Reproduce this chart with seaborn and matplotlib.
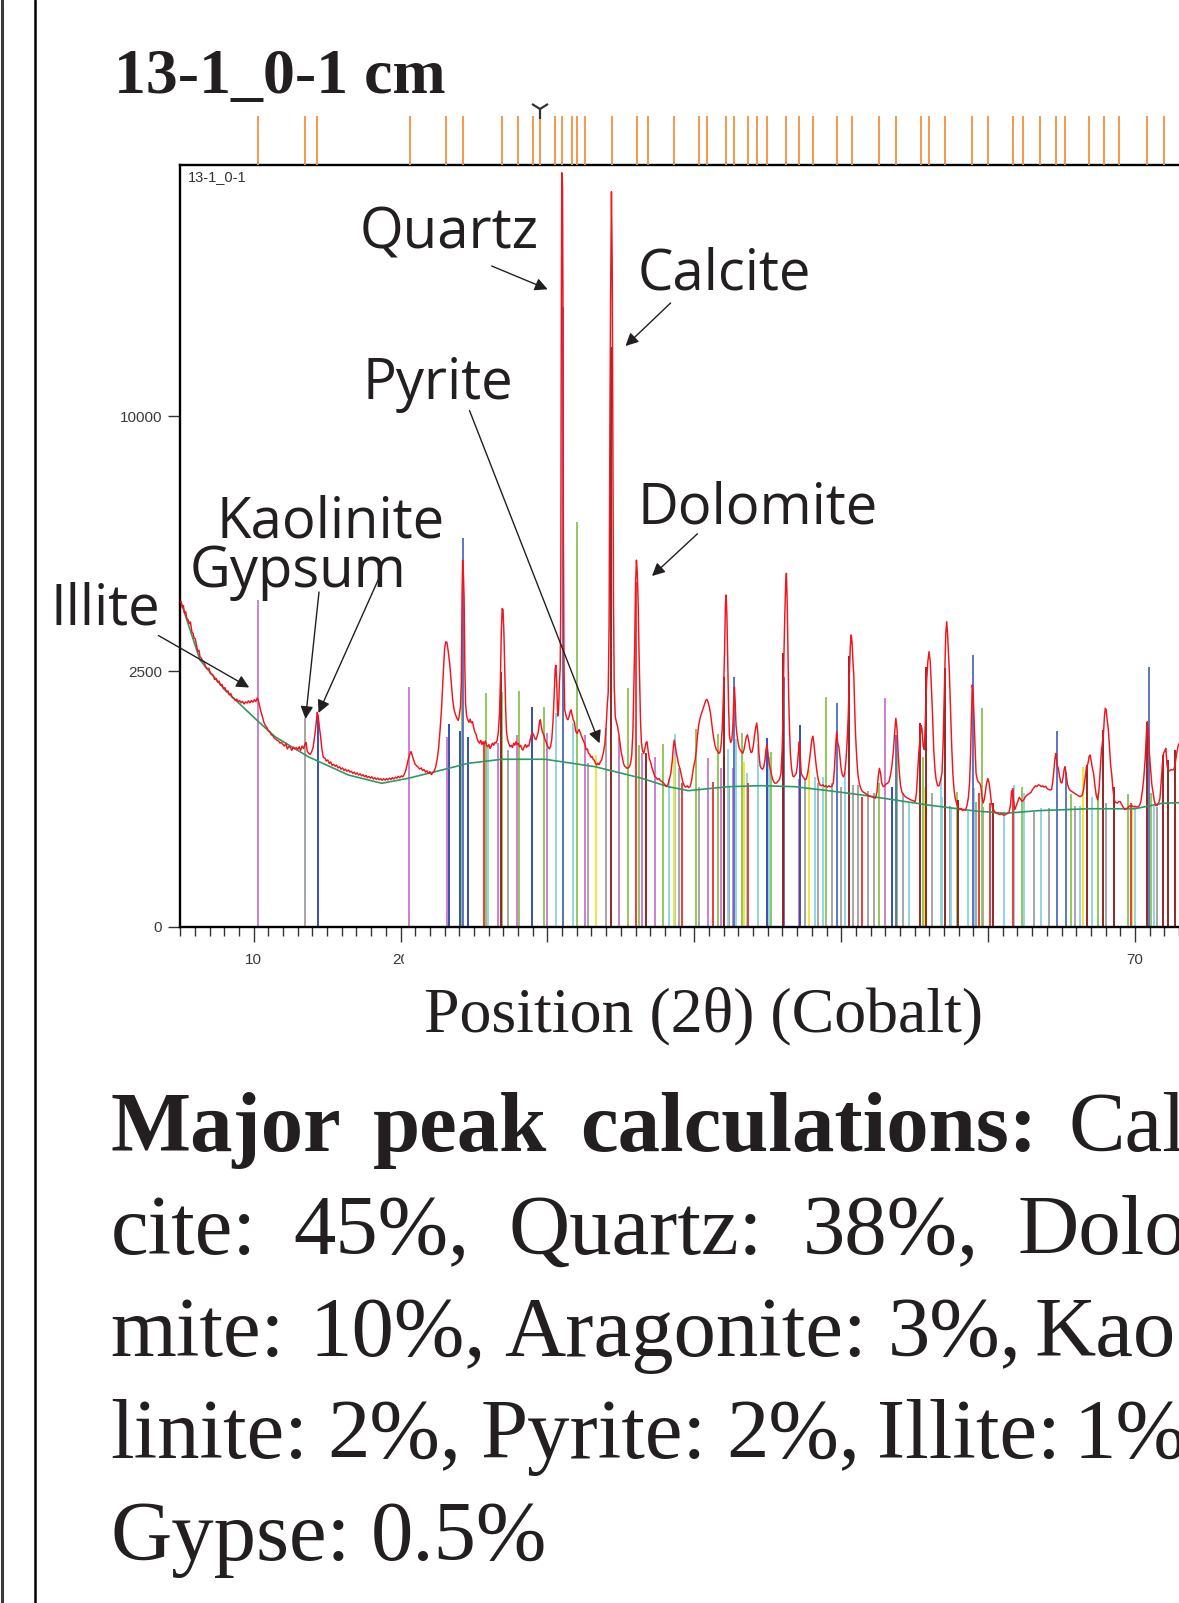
import numpy as np
import pandas as pd
import matplotlib
matplotlib.use("Agg")
import matplotlib.pyplot as plt
from matplotlib.ticker import MultipleLocator, FixedLocator
from matplotlib.lines import Line2D
from matplotlib.patches import Rectangle
import seaborn as sns

# ---------------------------------------------------------------- data
# measured scan, (2-theta, counts) with Co K-alpha, split into ranges
scan_05_22 = [
    (5.05, 4050), (5.15, 3900), (5.22, 3950), (5.3, 3760), (5.38, 3800), (5.45, 3640), (5.55, 3605),
    (5.62, 3520), (5.7, 3560), (5.8, 3330), (5.88, 3300), (5.95, 3190), (6.02, 3180), (6.1, 3060),
    (6.2, 2900), (6.28, 2930), (6.35, 2790), (6.45, 2760), (6.55, 2690), (6.62, 2700), (6.72, 2590),
    (6.85, 2540), (6.95, 2560), (7.05, 2460), (7.15, 2440), (7.25, 2420), (7.35, 2340), (7.45, 2360),
    (7.55, 2290), (7.65, 2310), (7.75, 2230), (7.85, 2250), (7.95, 2170), (8.05, 2190), (8.15, 2120),
    (8.25, 2130), (8.35, 2060), (8.45, 2080), (8.55, 2010), (8.65, 2000), (8.75, 1960), (8.85, 1985),
    (8.95, 1940), (9.05, 1960), (9.15, 1920), (9.25, 1945), (9.35, 1900), (9.45, 1935), (9.55, 1915),
    (9.65, 1955), (9.75, 1920), (9.85, 1960), (9.95, 1930), (10.05, 1975), (10.15, 1940), (10.25, 2005),
    (10.32, 1960), (10.4, 1880), (10.5, 1770), (10.6, 1690), (10.7, 1600), (10.8, 1550), (10.9, 1520),
    (11.0, 1470), (11.1, 1455), (11.2, 1410), (11.3, 1400), (11.4, 1365), (11.5, 1350), (11.6, 1330),
    (11.7, 1320), (11.8, 1290), (11.9, 1300), (12.0, 1270), (12.1, 1250), (12.2, 1285), (12.3, 1210),
    (12.4, 1245), (12.5, 1230), (12.6, 1190), (12.7, 1235), (12.8, 1210), (12.9, 1230), (13.0, 1200),
    (13.1, 1240), (13.2, 1190), (13.3, 1250), (13.4, 1215), (13.5, 1280), (13.57, 1300), (13.65, 1180),
    (13.75, 1150), (13.85, 1135), (13.95, 1170), (14.05, 1230), (14.15, 1380), (14.25, 1560),
    (14.33, 1760), (14.4, 1700), (14.48, 1520), (14.56, 1390), (14.64, 1220), (14.74, 1100),
    (14.85, 1090), (14.95, 1050), (15.05, 1065), (15.15, 1020), (15.25, 1040), (15.35, 995),
    (15.45, 1010), (15.55, 985), (15.65, 1000), (15.75, 965), (15.85, 980), (15.95, 950), (16.05, 965),
    (16.15, 935), (16.25, 950), (16.35, 925), (16.45, 940), (16.55, 915), (16.65, 925), (16.75, 900),
    (16.85, 915), (16.95, 890), (17.05, 905), (17.15, 880), (17.25, 895), (17.35, 870), (17.45, 885),
    (17.55, 860), (17.65, 875), (17.75, 850), (17.85, 865), (17.95, 845), (18.05, 860), (18.15, 835),
    (18.25, 850), (18.35, 830), (18.45, 845), (18.55, 825), (18.65, 840), (18.75, 820), (18.85, 838),
    (18.95, 822), (19.05, 840), (19.15, 825), (19.25, 845), (19.35, 830), (19.45, 850), (19.55, 835),
    (19.65, 855), (19.75, 845), (19.85, 865), (19.95, 850), (20.05, 870), (20.15, 860), (20.25, 885),
    (20.35, 930), (20.45, 1010), (20.55, 1090), (20.65, 1150), (20.72, 1175), (20.8, 1120),
    (20.9, 1060), (21.0, 1010), (21.1, 990), (21.2, 975), (21.3, 950), (21.4, 965), (21.5, 935),
    (21.6, 945), (21.7, 915), (21.8, 930), (21.9, 900), (22.0, 920), (22.1, 885), (22.2, 905),
]
scan_22_40 = [
    (22.3, 930), (22.4, 980), (22.5, 1080), (22.6, 1230), (22.7, 1500), (22.8, 1850), (22.9, 2400),
    (23.0, 2950), (23.08, 3110), (23.16, 3100), (23.25, 2900), (23.35, 2650), (23.45, 2300),
    (23.55, 1980), (23.65, 1800), (23.75, 1720), (23.85, 1660), (23.93, 1630), (24.0, 1700),
    (24.08, 1850), (24.14, 2300), (24.19, 4200), (24.23, 5150), (24.28, 4800), (24.33, 4150),
    (24.38, 2600), (24.43, 1900), (24.5, 1700), (24.58, 1640), (24.66, 1600), (24.74, 1650),
    (24.82, 1590), (24.9, 1610), (24.98, 1520), (25.06, 1450), (25.14, 1420), (25.22, 1350),
    (25.3, 1310), (25.38, 1290), (25.46, 1330), (25.54, 1270), (25.62, 1310), (25.7, 1280),
    (25.78, 1320), (25.86, 1260), (25.94, 1240), (26.02, 1270), (26.1, 1215), (26.18, 1250),
    (26.26, 1290), (26.34, 1260), (26.42, 1300), (26.5, 1290), (26.58, 1330), (26.66, 1450),
    (26.74, 1750), (26.8, 2300), (26.86, 3300), (26.92, 3880), (26.98, 3850), (27.04, 3300),
    (27.1, 2500), (27.16, 1800), (27.22, 1450), (27.3, 1330), (27.38, 1280), (27.46, 1240),
    (27.54, 1260), (27.62, 1230), (27.7, 1290), (27.78, 1260), (27.86, 1310), (27.94, 1270),
    (28.02, 1290), (28.1, 1240), (28.18, 1260), (28.26, 1210), (28.34, 1195), (28.42, 1240),
    (28.5, 1270), (28.58, 1230), (28.66, 1260), (28.74, 1250), (28.82, 1330), (28.9, 1400),
    (28.98, 1440), (29.06, 1410), (29.14, 1360), (29.22, 1340), (29.3, 1390), (29.38, 1450),
    (29.46, 1600), (29.52, 1640), (29.58, 1540), (29.66, 1450), (29.74, 1420), (29.82, 1350),
    (29.9, 1310), (29.98, 1270), (30.06, 1230), (30.14, 1210), (30.22, 1250), (30.3, 1350),
    (30.38, 1600), (30.46, 2050), (30.53, 2550), (30.58, 2620), (30.63, 2300), (30.7, 1700),
    (30.76, 1800), (30.82, 2300), (30.87, 2550), (30.91, 4000), (30.94, 12100), (30.98, 21800),
    (31.03, 21000), (31.06, 15000), (31.09, 6000), (31.13, 2600), (31.18, 1800), (31.24, 1740),
    (31.32, 1660), (31.4, 1640), (31.48, 1700), (31.56, 1780), (31.62, 1800), (31.68, 1720),
    (31.76, 1640), (31.84, 1600), (31.92, 1470), (32.0, 1430), (32.08, 1460), (32.16, 1490),
    (32.24, 1440), (32.32, 1390), (32.4, 1350), (32.48, 1310), (32.56, 1270), (32.64, 1200),
    (32.72, 1210), (32.8, 1150), (32.88, 1140), (32.96, 1100), (33.04, 1110), (33.12, 1070),
    (33.2, 1060), (33.28, 1020), (33.36, 1000), (33.44, 1025), (33.52, 1005), (33.6, 1040),
    (33.68, 1060), (33.76, 1120), (33.84, 1190), (33.92, 1300), (34.0, 1550), (34.08, 1900),
    (34.14, 2100), (34.2, 3500), (34.25, 9000), (34.3, 15000), (34.36, 20720), (34.41, 17000),
    (34.46, 9000), (34.5, 4000), (34.55, 2200), (34.62, 1690), (34.7, 1600), (34.78, 1530),
    (34.86, 1420), (34.94, 1300), (35.02, 1170), (35.1, 1100), (35.18, 1020), (35.26, 985),
    (35.34, 975), (35.42, 960), (35.5, 965), (35.58, 980), (35.66, 1020), (35.74, 1120),
    (35.82, 1450), (35.88, 2200), (35.94, 3000), (36.0, 4500), (36.06, 5150), (36.12, 4800),
    (36.18, 4000), (36.23, 3000), (36.28, 2300), (36.34, 1600), (36.4, 1300), (36.48, 1180),
    (36.56, 1150), (36.64, 1220), (36.72, 1300), (36.78, 1310), (36.86, 1180), (36.94, 1080),
    (37.02, 1040), (37.1, 980), (37.2, 920), (37.3, 870), (37.4, 850), (37.5, 830), (37.6, 840),
    (37.7, 815), (37.8, 805), (37.9, 790), (38.0, 770), (38.1, 752), (38.2, 770), (38.3, 830),
    (38.4, 900), (38.5, 1050), (38.58, 1250), (38.64, 1335), (38.7, 1250), (38.78, 1150),
    (38.86, 1080), (38.94, 1000), (39.02, 960), (39.12, 880), (39.22, 800), (39.32, 760),
    (39.42, 745), (39.52, 760), (39.62, 740), (39.72, 755), (39.82, 820), (39.9, 920),
]
scan_40_57 = [
    (39.98, 1000), (40.06, 1070), (40.14, 1200), (40.22, 1400), (40.3, 1560), (40.38, 1650),
    (40.46, 1720), (40.54, 1780), (40.62, 1840), (40.7, 1900), (40.78, 1960), (40.86, 1980),
    (40.94, 1930), (41.02, 1850), (41.1, 1750), (41.18, 1600), (41.26, 1450), (41.34, 1340),
    (41.42, 1250), (41.5, 1200), (41.58, 1180), (41.66, 1150), (41.74, 1160), (41.82, 1250),
    (41.9, 1500), (41.98, 2030), (42.06, 2900), (42.12, 4000), (42.17, 4217), (42.22, 3700),
    (42.27, 2860), (42.33, 1900), (42.39, 1400), (42.47, 1300), (42.55, 1330), (42.62, 1500),
    (42.68, 1900), (42.73, 2200), (42.78, 1950), (42.84, 1550), (42.9, 1420), (42.98, 1300),
    (43.06, 1220), (43.14, 1190), (43.22, 1170), (43.3, 1150), (43.38, 1200), (43.46, 1290),
    (43.54, 1380), (43.62, 1410), (43.7, 1330), (43.78, 1220), (43.86, 1160), (43.94, 1170),
    (44.02, 1260), (44.1, 1400), (44.18, 1520), (44.25, 1590), (44.32, 1450), (44.4, 1150),
    (44.48, 990), (44.56, 960), (44.64, 950), (44.72, 970), (44.8, 1050), (44.88, 1200),
    (44.95, 1265), (45.02, 1150), (45.1, 1010), (45.18, 950), (45.26, 880), (45.34, 830),
    (45.42, 800), (45.5, 787), (45.6, 790), (45.7, 810), (45.8, 830), (45.9, 900), (45.98, 1200),
    (46.04, 1700), (46.1, 2800), (46.16, 3700), (46.22, 4500), (46.27, 4787), (46.32, 4100),
    (46.37, 3000), (46.42, 2100), (46.48, 1500), (46.54, 1150), (46.62, 960), (46.7, 870),
    (46.78, 860), (46.86, 880), (46.94, 900), (47.02, 1000), (47.1, 1200), (47.15, 1310),
    (47.2, 1150), (47.28, 900), (47.36, 870), (47.44, 850), (47.52, 830), (47.6, 830),
    (47.68, 870), (47.76, 950), (47.84, 1060), (47.92, 1200), (48.0, 1340), (48.08, 1390),
    (48.16, 1250), (48.24, 1090), (48.32, 960), (48.4, 860), (48.48, 800), (48.56, 768),
    (48.66, 760), (48.76, 770), (48.86, 750), (48.96, 760), (49.06, 745), (49.16, 760),
    (49.26, 748), (49.36, 755), (49.46, 790), (49.54, 950), (49.62, 1250), (49.69, 1456),
    (49.76, 1300), (49.84, 1240), (49.92, 1100), (50.0, 950), (50.08, 880), (50.16, 860),
    (50.24, 900), (50.32, 1050), (50.4, 1300), (50.48, 1700), (50.55, 2400), (50.62, 3000),
    (50.68, 3260), (50.74, 3100), (50.8, 2700), (50.86, 2400), (50.92, 1800), (50.98, 1400),
    (51.06, 1080), (51.14, 880), (51.24, 780), (51.34, 730), (51.44, 700), (51.54, 690),
    (51.64, 680), (51.74, 670), (51.84, 660), (51.94, 650), (52.04, 648), (52.14, 642),
    (52.24, 636), (52.34, 632), (52.44, 700), (52.52, 860), (52.6, 960), (52.68, 900),
    (52.76, 790), (52.86, 750), (52.96, 760), (53.06, 780), (53.16, 787), (53.26, 810),
    (53.36, 880), (53.46, 1000), (53.56, 1200), (53.64, 1450), (53.72, 1663), (53.8, 1500),
    (53.88, 1150), (53.96, 900), (54.04, 760), (54.14, 690), (54.24, 670), (54.34, 650),
    (54.44, 640), (54.54, 632), (54.64, 625), (54.74, 615), (54.84, 610), (54.94, 605),
    (55.04, 600), (55.12, 680), (55.2, 900), (55.28, 1150), (55.36, 1350), (55.44, 1550),
    (55.5, 1500), (55.58, 1250), (55.66, 1200), (55.74, 1700), (55.82, 2330), (55.9, 2700),
    (55.98, 2898), (56.06, 2700), (56.14, 2200), (56.22, 1700), (56.3, 1200), (56.38, 950),
    (56.46, 830), (56.56, 760), (56.66, 760), (56.76, 820), (56.86, 900), (56.94, 1300),
]
scan_57_73 = [
    (57.0, 1900), (57.06, 2600), (57.12, 3300), (57.18, 3565), (57.24, 3300), (57.3, 2900),
    (57.36, 2500), (57.44, 1800), (57.52, 1260), (57.6, 900), (57.68, 720), (57.76, 630),
    (57.86, 580), (57.96, 545), (58.06, 525), (58.16, 535), (58.26, 515), (58.36, 525),
    (58.46, 520), (58.56, 560), (58.66, 640), (58.74, 800), (58.8, 1100), (58.86, 1600),
    (58.92, 2238), (58.98, 2100), (59.04, 1700), (59.1, 1300), (59.18, 900), (59.26, 830),
    (59.34, 800), (59.42, 790), (59.5, 760), (59.58, 650), (59.66, 585), (59.74, 620),
    (59.82, 700), (59.9, 790), (59.98, 840), (60.06, 800), (60.14, 700), (60.22, 590),
    (60.32, 540), (60.42, 510), (60.52, 495), (60.62, 490), (60.72, 485), (60.82, 480),
    (60.92, 490), (61.02, 478), (61.12, 475), (61.22, 485), (61.32, 490), (61.42, 500),
    (61.52, 560), (61.6, 700), (61.66, 715), (61.74, 600), (61.82, 525), (61.92, 560),
    (62.02, 600), (62.12, 640), (62.22, 620), (62.32, 600), (62.42, 615), (62.52, 640),
    (62.62, 660), (62.72, 670), (62.82, 680), (62.92, 690), (63.02, 720), (63.12, 740),
    (63.22, 760), (63.32, 750), (63.42, 770), (63.52, 765), (63.62, 750), (63.72, 760),
    (63.82, 745), (63.92, 755), (64.02, 730), (64.12, 720), (64.22, 715), (64.32, 720),
    (64.4, 800), (64.48, 950), (64.56, 1100), (64.62, 1150), (64.7, 1000), (64.78, 960),
    (64.86, 870), (64.94, 800), (65.02, 790), (65.1, 850), (65.18, 950), (65.24, 980),
    (65.32, 880), (65.4, 780), (65.5, 730), (65.6, 710), (65.7, 700), (65.8, 690), (65.9, 680),
    (66.0, 670), (66.1, 660), (66.2, 650), (66.3, 648), (66.4, 660), (66.5, 720), (66.6, 850),
    (66.7, 980), (66.8, 1020), (66.88, 1110), (66.94, 1128), (67.02, 1050), (67.1, 960),
    (67.18, 900), (67.26, 780), (67.36, 660), (67.46, 614), (67.54, 700), (67.62, 900),
    (67.7, 1150), (67.78, 1300), (67.86, 1450), (67.92, 1700), (67.98, 1827), (68.04, 1800),
    (68.1, 1650), (68.18, 1500), (68.26, 1250), (68.34, 1000), (68.42, 880), (68.5, 720),
    (68.6, 610), (68.7, 590), (68.8, 585), (68.9, 600), (69.0, 598), (69.1, 570), (69.2, 545),
    (69.3, 525), (69.4, 530), (69.5, 540), (69.6, 555), (69.7, 560), (69.8, 560), (69.9, 550),
    (70.0, 555), (70.1, 548), (70.2, 550), (70.3, 560), (70.4, 600), (70.5, 700), (70.6, 850),
    (70.7, 1100), (70.78, 1450), (70.84, 1610), (70.9, 1450), (70.98, 1150), (71.06, 950),
    (71.14, 780), (71.22, 700), (71.32, 600), (71.42, 560), (71.52, 565), (71.62, 590),
    (71.7, 630), (71.78, 800), (71.86, 1000), (71.94, 1150), (72.02, 1180), (72.1, 1218),
    (72.18, 1000), (72.26, 940), (72.36, 930), (72.46, 945), (72.56, 940), (72.66, 950),
    (72.76, 1050), (72.86, 1180), (72.95, 1264), (73.05, 1300), (73.3, 1400),
]

# fitted background
bg_two_theta = [5.05, 6.35, 8.05, 10.21, 11.46, 13.72, 16.45, 18.72, 20.53, 22.35, 24.62, 26.89,
                29.84, 33.24, 36.42, 38.23, 39.59, 42.31, 44.59, 46.85, 49.12, 51.40, 53.66,
                55.93, 57.75, 59.11, 61.15, 63.42, 66.82, 70.0, 71.82, 73.3]
bg_counts = [4050, 2725, 2146, 1636, 1382, 1106, 881, 787, 843, 919, 1022, 1073,
             1073, 980, 843, 750, 708, 750, 761, 750, 708, 664, 614,
             566, 535, 512, 492, 515, 532, 532, 582, 590]

# reference sticks per phase: positions (2-theta) and heights (counts)
illite_pos = [10.28, 20.58, 23.14, 26.66, 27.91, 29.99, 32.56, 34.90, 36.42, 37.32, 40.96, 41.82, 42.66, 47.15, 53.0]
illite_h = [4095, 2206, 1382, 1288, 1407, 1432, 1407, 1382, 1159, 1106, 1086, 960, 960, 831, 1998]

gypsum_pos = [13.50, 27.29, 32.79, 33.97, 38.98, 40.34, 42.39, 47.54, 48.44, 49.35, 49.96, 50.83, 51.12,
              51.80, 52.26, 54.23, 56.2, 57.41, 59.15, 59.65, 63.13, 64.15, 65.92, 68.0, 71.47]
gypsum_h = [1663, 1195, 1022, 1507, 960, 750, 750, 831, 787, 787, 750, 768, 768,
            700, 681, 681, 681, 560, 598, 545, 506, 537, 555, 590, 545]

kaolinite_pos = [14.36, 23.28, 24.05, 24.62, 28.93, 42.0, 44.97, 47.19, 53.44]
kaolinite_h = [1720, 1574, 1471, 1382, 1854, 1106, 1365, 1558, 750]

quartz_pos = [24.28, 31.06, 42.73, 46.13, 49.71, 53.75, 59.0, 64.71, 65.30, 70.93]
quartz_h = [5782, 14740, 2394, 2394, 1922, 1407, 2828, 1471, 919, 2590]

calcite_pos = [26.82, 34.30, 36.69, 42.04, 46.06, 50.55, 55.36, 55.77, 57.07, 57.97, 60.36,
               66.75, 67.84, 68.59, 70.84, 71.93, 72.22, 72.72]
calcite_h = [2491, 12900, 1150, 2394, 2864, 2808, 1584, 2590, 2560, 614, 582,
             1001, 1482, 750, 1610, 1128, 1064, 1195]

dolomite_pos = [25.68, 36.06, 39.18, 41.30, 43.68, 51.39, 59.40, 60.13, 61.72, 69.71]
dolomite_h = [1288, 4560, 787, 805, 787, 646, 681, 582, 731, 582]

aragonite_pos = [25.93, 30.58, 31.76, 38.28, 38.68, 42.32, 42.84, 43.56, 44.36, 45.09, 48.22, 48.78,
                 50.26, 53.82, 54.62, 56.79, 56.88, 57.48, 58.65, 59.04, 61.11, 61.79, 62.44,
                 63.62, 66.26, 67.05, 70.02, 71.32]
aragonite_h = [1240, 1744, 1584, 831, 1418, 1205, 1345, 900, 1278, 1106, 861, 861,
               900, 1240, 598, 861, 646, 545, 521, 731, 506, 768, 681,
               537, 555, 646, 560, 560]

albite_pos = [24.16, 25.80, 26.91, 28.07, 29.77, 31.04, 32.04, 35.46, 36.24, 37.85, 40.12, 41.64,
              43.22, 45.20, 48.94, 52.60, 53.78, 55.55, 57.86, 59.56, 62.29, 65.62, 67.50,
              69.50, 71.07]
albite_h = [3004, 2087, 2116, 2128, 1854, 2364, 6288, 2177, 1264, 1278, 1492, 1418,
            1432, 1170, 2027, 787, 1151, 1106, 697, 1827, 750, 675, 681,
            675, 681]

pyrite_pos = [33.29, 38.59, 43.41, 47.81, 55.70, 66.48, 69.77]
pyrite_h = [1128, 1106, 1042, 940, 750, 980, 560]

# reference positions shown above the scan
marker_pos = [10.28, 13.50, 14.34, 20.65, 23.10, 24.28, 26.91, 27.98, 29.00, 29.50, 30.50, 31.01,
              31.67, 32.01, 32.54, 34.40, 36.08, 36.83, 38.60, 40.30, 40.86, 42.15, 42.72,
              43.63, 44.26, 44.94, 46.26, 47.12, 48.11, 49.69, 50.71, 52.55, 53.75, 55.44,
              55.96, 57.10, 58.87, 59.97, 61.68, 62.36, 63.53, 64.62, 65.21, 66.88, 67.90,
              68.88, 70.83, 72.00]
selected_pos = [29.50]

x_ticks = [10, 20, 30, 40, 50, 60, 70]
y_ticks = [0, 2500, 10000]

labels = ["Quartz", "Calcite", "Pyrite", "Dolomite", "Kaolinite", "Gypsum", "Illite"]

# ---------------------------------------------------------------- styling
W, H, DPI = 1179, 1603, 100
sns.set_theme(style="white")
plt.rcParams["font.family"] = ["Liberation Sans", "DejaVu Sans"]

def fx(px):
    return px / W

def fy(py):
    return 1 - py / H

INK = "#231F20"
phase_colors = {
    "illite": "#CC7ACC",
    "gypsum": "#A3A3A3",
    "kaolinite": "#2E48B4",
    "quartz": "#5570C4",
    "calcite": "#8E1F1F",
    "dolomite": "#EE3535",
    "aragonite": "#8ED4E4",
    "albite": "#8CC655",
    "pyrite": "#F2E430",
}

fig = plt.figure(figsize=(W / DPI, H / DPI), dpi=DPI)
fig.patch.set_facecolor("white")

# main diffractogram axes (14.69 px per degree; runs past the right page edge)
x_lo, x_hi = 5, 80
ppd = 14.69
ax_left = 253.6 - (10 - x_lo) * ppd
ax = fig.add_axes([fx(ax_left), fy(926.5), (x_hi - x_lo) * ppd / W, (926.5 - 164.6) / H])

fwd = lambda v: np.sqrt(np.clip(v, 0, None))
inv = lambda v: np.square(v)
ax.set_yscale("function", functions=(fwd, inv))
ax.set_xlim(x_lo, x_hi)
ax.set_ylim(0, 22275)

sticks = [
    (illite_pos, illite_h, "illite"),
    (gypsum_pos, gypsum_h, "gypsum"),
    (aragonite_pos, aragonite_h, "aragonite"),
    (albite_pos, albite_h, "albite"),
    (pyrite_pos, pyrite_h, "pyrite"),
    (kaolinite_pos, kaolinite_h, "kaolinite"),
    (quartz_pos, quartz_h, "quartz"),
    (dolomite_pos, dolomite_h, "dolomite"),
    (calcite_pos, calcite_h, "calcite"),
]
for pos, h, name in sticks:
    ax.vlines(pos, 0, h, colors=phase_colors[name], lw=1.35, zorder=1)

scan = pd.DataFrame(scan_05_22 + scan_22_40 + scan_40_57 + scan_57_73,
                    columns=["two_theta", "counts"])
bg = pd.DataFrame({"two_theta": bg_two_theta, "counts": bg_counts})
sns.lineplot(data=bg, x="two_theta", y="counts", ax=ax, color="#2E9A63", lw=1.2,
             estimator=None, sort=False, zorder=2)
sns.lineplot(data=scan, x="two_theta", y="counts", ax=ax, color="#F3141C", lw=1.05,
             estimator=None, sort=False, zorder=3)

ax.set_xlabel("")
ax.set_ylabel("")
for side in ["left", "bottom", "top"]:
    ax.spines[side].set_visible(True)
    ax.spines[side].set_color("black")
    ax.spines[side].set_linewidth(1.7)
ax.spines["right"].set_visible(False)

ax.xaxis.set_major_locator(FixedLocator(x_ticks))
ax.xaxis.set_minor_locator(MultipleLocator(1))
ax.set_xticklabels([str(t) for t in x_ticks])
ax.yaxis.set_major_locator(FixedLocator(y_ticks))
ax.yaxis.set_minor_locator(FixedLocator([]))
ax.set_yticklabels([str(t) for t in y_ticks])
ax.tick_params(axis="x", which="major", direction="out", length=11, width=1.0,
               color="#333333", labelsize=11, labelcolor="#3A3A3A", pad=8,
               bottom=True, top=False)
ax.tick_params(axis="x", which="minor", direction="out", length=6.5, width=1.0,
               color="#333333", bottom=True, top=False)
ax.tick_params(axis="y", which="major", direction="out", length=9, width=1.0,
               color="#333333", labelsize=11, labelcolor="#3A3A3A", pad=4,
               left=True, right=False)

ax.text(fx(187.5), fy(181.5), "13-1_0-1", transform=fig.transFigure, fontsize=10.5,
        color="#333333", va="baseline", ha="left")

# strip of reference positions above the scan
ax_top = fig.add_axes([fx(ax_left), fy(164.6), (x_hi - x_lo) * ppd / W, (164.6 - 95) / H])
ax_top.set_xlim(x_lo, x_hi)
ax_top.set_ylim(0, 1)
ax_top.axis("off")
ax_top.vlines(marker_pos, 0, 49 / 69.6, colors="#F5913E", lw=1.3)
ax_top.plot(selected_pos, [0.80] * len(selected_pos), marker="1", ms=14, mew=1.6,
            color="#333333", ls="none")

# phase call-outs
label_font = ["Open Sans", "DejaVu Sans"]
label_xy = {
    "Quartz": (360, 248), "Calcite": (638, 290), "Pyrite": (362, 399),
    "Dolomite": (638, 524), "Kaolinite": (216, 538), "Gypsum": (190, 587),
    "Illite": (50, 624),
}
for name in labels:
    lx, ly = label_xy[name]
    fig.text(fx(lx), fy(ly), name, fontsize=40.5, family=label_font, color=INK,
             ha="left", va="baseline", zorder=6)

arrows = [
    ((491.7, 266), (547.7, 289.3)),
    ((670.6, 303), (625.5, 346)),
    ((469.5, 410.5), (599.5, 743.3)),
    ((697.4, 533.8), (652.0, 576.0)),
    ((379.0, 578.0), (318.5, 713.0)),
    ((319.0, 592.0), (305.5, 719.0)),
    ((158.4, 635.5), (249.2, 687.5)),
]
for (tx, ty), (hx, hy) in arrows:
    ax.annotate("", xy=(fx(hx), fy(hy)), xycoords="figure fraction",
                xytext=(fx(tx), fy(ty)), textcoords="figure fraction",
                arrowprops=dict(arrowstyle="-|>", color=INK, lw=1.0,
                                mutation_scale=19, shrinkA=0, shrinkB=0),
                annotation_clip=False, zorder=6)

# white box carrying the axis title (sits over the middle tick labels)
fig.patches.append(Rectangle((fx(404), fy(1042)), (1112 - 404) / W, (1042 - 946) / H,
                             transform=fig.transFigure, facecolor="white",
                             edgecolor="none", zorder=5))
serif = ["Liberation Serif", "DejaVu Serif"]
fig.text(fx(704), fy(1031), "Position (2\u03b8) (Cobalt)", fontsize=46, family=serif,
         color=INK, ha="center", va="baseline", zorder=6)

# heading
fig.text(fx(114), fy(93), "13-1_0-1 cm", fontsize=46, family=serif, weight="bold",
         color=INK, ha="left", va="baseline")

# page borders on the left
fig.add_artist(Line2D([fx(1.5), fx(1.5)], [0, 1], transform=fig.transFigure,
                      color="#3A3A3A", lw=2.2))
fig.add_artist(Line2D([fx(35), fx(35)], [0, 1], transform=fig.transFigure,
                      color="black", lw=1.8))

# summary paragraph, one word at a time to keep the justified layout
para = [
    (1151, [("Major", 110.4, True), ("peak", 373.3, True), ("calculations:", 579.8, True),
            ("Cal", 1068.6, False)]),
    (1254, [("cite:", 110.4, False), ("45%,", 293.5, False), ("Quartz:", 508.2, False),
            ("38%,", 802.7, False), ("Dolo", 1017.5, False)]),
    (1356, [("mite:", 110.4, False), ("10%,", 309.8, False), ("Aragonite:", 504.1, False),
            ("3%,", 887.6, False), ("Kao", 1034.9, False)]),
    (1458, [("linite:", 110.4, False), ("2%,", 327.2, False), ("Pyrite:", 480.6, False),
            ("2%,", 726.0, False), ("Illite:", 877.4, False), ("1%", 1073.7, False)]),
    (1560, [("Gypse:", 110.4, False), ("0.5%", 371.2, False)]),
]
for base, words in para:
    for word, wx, bold in words:
        fig.text(fx(wx), fy(base), word, fontsize=61, family=serif,
                 weight="bold" if bold else "normal", color=INK,
                 ha="left", va="baseline")

fig.savefig("out.png", dpi=DPI, facecolor="white")
